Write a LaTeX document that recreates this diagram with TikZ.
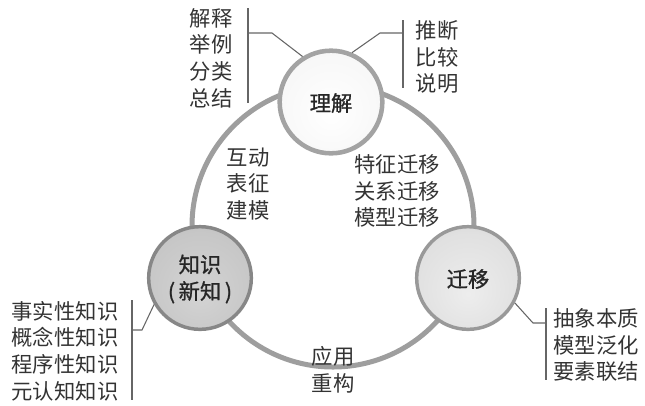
\documentclass[tikz,border=0pt]{standalone}
\usepackage{fontspec}
\newfontfamily\cjk{Noto Sans CJK SC}
\newfontfamily\cjkm[FakeBold=1]{Noto Sans CJK SC}
\pgfdeclareradialshading{sphTop}{\pgfpoint{0bp}{-6bp}}{color(0bp)=(white); color(26bp)=(black!3); color(38bp)=(black!9); color(45bp)=(black!16); color(50bp)=(black!26)}
\pgfdeclareradialshading{sphLeft}{\pgfpoint{0bp}{-8bp}}{color(0bp)=(black!17); color(26bp)=(black!22); color(38bp)=(black!28); color(45bp)=(black!34); color(50bp)=(black!42)}
\pgfdeclareradialshading{sphRight}{\pgfpoint{0bp}{-8bp}}{color(0bp)=(black!7); color(26bp)=(black!12); color(38bp)=(black!19); color(45bp)=(black!27); color(50bp)=(black!36)}
\begin{document}
\begin{tikzpicture}[x=0.75pt,y=-0.75pt]
\useasboundingbox (0,0) rectangle (645,405);
\tikzset{
  lab/.style={font=\cjk\fontsize{16pt}{20pt}\selectfont, text=black!80, align=center, inner sep=0pt},
  ttl/.style={font=\cjkm\fontsize{16pt}{20pt}\selectfont, text=black!85, align=center, inner sep=0pt},
  ball/.style={circle, minimum size=77pt, inner sep=0pt, line width=2.6pt, shade},
  ringline/.style={draw=black!38, line width=3.75pt},
  brk/.style={draw=black!60, line width=0.8pt}
}
% ring
\coordinate (c) at (333,226);
\draw[ringline] (c) circle [radius=141];
% spheres
\node[ball, shading=sphTop, draw=black!36, line width=3.4pt] (u) at (331,102) {};
\node[ttl] (ut) at (331,103) {理解};
\node[ball, shading=sphLeft, draw=black!47] (k) at (200,278) {};
\node[ttl] (kt) at (200,279) {知识\\(\,新知\,)};
\node[ball, shading=sphRight, draw=black!40] (t) at (468,278) {};
\node[ttl] (tt) at (468,279) {迁移};
% labels
\node[lab] (l1) at (211,58) {解释\\举例\\分类\\总结};
\node[lab] (l2) at (437,57) {推断\\比较\\说明};
\node[lab] (l3) at (65,351) {事实性知识\\概念性知识\\程序性知识\\元认知知识};
\node[lab] (l4) at (596,345) {抽象本质\\模型泛化\\要素联结};
\node[lab] (m1) at (248,184) {互动\\表征\\建模};
\node[lab] (m2) at (397,191) {特征迁移\\关系迁移\\模型迁移};
\node[lab] (m3) at (333,370) {应用\\重构};
% brackets
\coordinate (b1a) at (248,8);   \coordinate (b1b) at (248,103);
\coordinate (b1m) at (248,33);  \coordinate (b1k) at (272,33);
\draw[brk] (b1a) -- (b1b);
\draw[brk] (b1m) -- (b1k) -- (u.122);
\coordinate (b2a) at (403,20);  \coordinate (b2b) at (403,88);
\coordinate (b2m) at (403,33);  \coordinate (b2k) at (380,33);
\draw[brk] (b2a) -- (b2b);
\draw[brk] (b2m) -- (b2k) -- (u.67);
\coordinate (b3a) at (132,300); \coordinate (b3b) at (132,400);
\coordinate (b3m) at (132,330); \coordinate (b3k) at (142,330);
\draw[brk] (b3a) -- (b3b);
\draw[brk] (b3m) -- (b3k) -- (k.210);
\coordinate (b4a) at (546,308); \coordinate (b4b) at (546,380);
\coordinate (b4m) at (546,323); \coordinate (b4k) at (533,323);
\draw[brk] (b4a) -- (b4b);
\draw[brk] (b4m) -- (b4k) -- (t.-28);
\end{tikzpicture}
\end{document}
